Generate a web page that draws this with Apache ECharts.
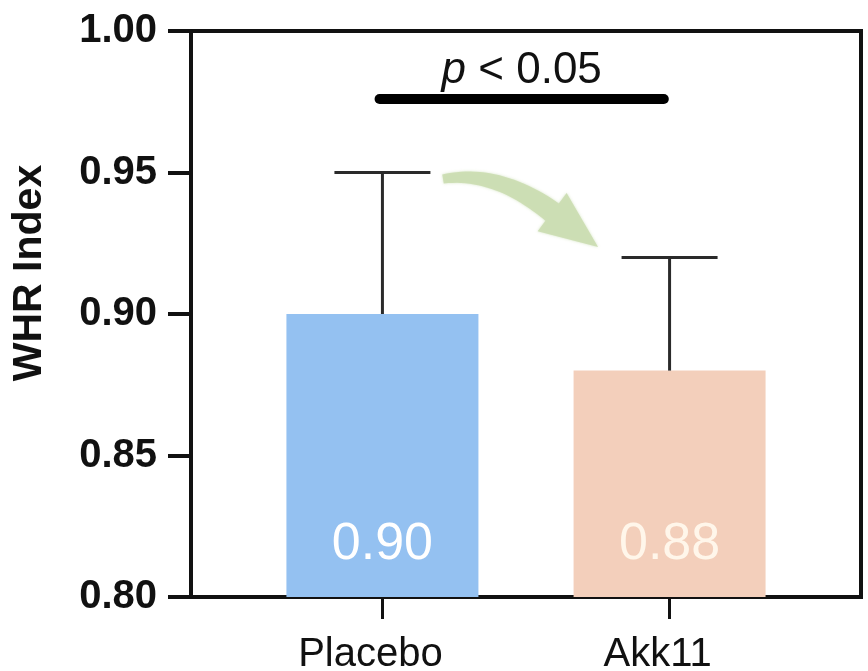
<!DOCTYPE html>
<html>
<head>
<meta charset="utf-8">
<script src="https://cdn.jsdelivr.net/npm/echarts@6/dist/echarts.min.js"></script>
<style>
  html, body { margin: 0; padding: 0; background: #fff; }
  #chart { width: 868px; height: 671px; }
</style>
</head>
<body>
<div id="chart"></div>
<script>
// Group names and their positions on the x scale
const categories = ['Placebo', 'Akk11'];
const categoryPos = [0, 1];

// Mean WHR index per group and the upper error (SD)
const means = [0.90, 0.88];
const errUpper = [0.05, 0.04];

// Y axis range and step
const yMin = 0.80;
const yMax = 1.00;
const yStep = 0.05;

// Significance bracket: span on the x scale, level on the y scale
const sigSpan = [-0.01, 0.98];
const sigLevel = 0.976;

// Curved arrow path anchors (x, y in axis units): tail, bend, head base, tip
const arrowTail = [0.211, 0.9477];
const arrowBend = [0.399, 0.9509];
const arrowHeadBase = [0.591, 0.9360];
const arrowTip = [0.751, 0.9237];

const barColors = ['#94C1F1', '#F3CFBB'];
const barLabelColors = ['#FFFFFF', '#FFF6EA'];
const FONT = '"Liberation Sans", Arial, Helvetica, sans-serif';

const chart = echarts.init(document.getElementById('chart'));

const barData = means.map((v, i) => ({
  value: [categoryPos[i], v],
  itemStyle: { color: barColors[i] },
  label: { color: barLabelColors[i] }
}));

const errData = means.map((v, i) => [categoryPos[i], v, v + errUpper[i]]);

function renderError(params, api) {
  const x = api.value(0);
  const base = api.coord([x, api.value(1)]);
  const top = api.coord([x, api.value(2)]);
  const half = 48;
  const style = { stroke: '#2a2a2a', lineWidth: 3, lineCap: 'butt' };
  return {
    type: 'group',
    children: [
      { type: 'line', shape: { x1: base[0], y1: base[1], x2: top[0], y2: top[1] }, style: style },
      { type: 'line', shape: { x1: top[0] - half, y1: top[1], x2: top[0] + half, y2: top[1] }, style: style }
    ]
  };
}

function renderSig(params, api) {
  const a = api.coord([api.value(0), api.value(2)]);
  const b = api.coord([api.value(1), api.value(2)]);
  return {
    type: 'group',
    children: [
      { type: 'line', shape: { x1: a[0], y1: a[1], x2: b[0], y2: b[1] },
        style: { stroke: '#000', lineWidth: 10, lineCap: 'round' } },
      { type: 'text', x: (a[0] + b[0]) / 2, y: a[1] - 6,
        style: {
          text: '{i|p} < 0.05', align: 'center', verticalAlign: 'bottom',
          font: '44px ' + FONT, fill: '#111',
          rich: { i: { fontStyle: 'italic', fontSize: 44, fontFamily: FONT, fill: '#111' } }
        } }
    ]
  };
}

function renderArrow(params, api) {
  const S = api.coord(arrowTail);
  const C = api.coord(arrowBend);
  const E = api.coord(arrowHeadBase);
  const T = api.coord(arrowTip);
  const n = 24;
  const w0 = 9, w1 = 22, headHalf = 24;
  const left = [], right = [];
  for (let k = 0; k <= n; k++) {
    const t = k / n;
    const px = (1 - t) * (1 - t) * S[0] + 2 * (1 - t) * t * C[0] + t * t * E[0];
    const py = (1 - t) * (1 - t) * S[1] + 2 * (1 - t) * t * C[1] + t * t * E[1];
    const dx = 2 * (1 - t) * (C[0] - S[0]) + 2 * t * (E[0] - C[0]);
    const dy = 2 * (1 - t) * (C[1] - S[1]) + 2 * t * (E[1] - C[1]);
    const len = Math.hypot(dx, dy) || 1;
    const nx = -dy / len, ny = dx / len;
    const w = (w0 + (w1 - w0) * t) / 2;
    left.push([px + nx * w, py + ny * w]);
    right.push([px - nx * w, py - ny * w]);
  }
  const hx = T[0] - E[0], hy = T[1] - E[1];
  const hl = Math.hypot(hx, hy) || 1;
  const hnx = -hy / hl, hny = hx / hl;
  const pts = left.concat([
    [E[0] + hnx * headHalf, E[1] + hny * headHalf],
    [T[0], T[1]],
    [E[0] - hnx * headHalf, E[1] - hny * headHalf]
  ]).concat(right.reverse());
  return {
    type: 'polygon',
    shape: { points: pts, smooth: 0 },
    style: { fill: '#CBDDB1', opacity: 0.9, shadowBlur: 3, shadowColor: 'rgba(200,220,175,0.8)' }
  };
}

const option = {
  animation: false,
  backgroundColor: '#fff',
  grid: {
    left: 191, right: 7, top: 31, bottom: 74,
    outerBoundsMode: 'none', containLabel: false,
    show: true, borderColor: '#111', borderWidth: 4, backgroundColor: 'transparent'
  },
  xAxis: {
    type: 'value',
    min: -2 / 3,
    max: 5 / 3,
    splitLine: { show: false },
    axisLine: { show: true, onZero: false, lineStyle: { color: '#111', width: 4 } },
    axisTick: {
      show: true, inside: false, length: 22, customValues: categoryPos,
      lineStyle: { color: '#111', width: 3 }
    },
    axisLabel: {
      show: true, customValues: categoryPos, margin: 38,
      fontFamily: FONT, fontSize: 40, color: '#111', padding: [0, 24, 0, 0],
      formatter: v => categories[Math.round(v)] || ''
    }
  },
  yAxis: {
    type: 'value',
    min: yMin, max: yMax, interval: yStep,
    splitLine: { show: false },
    axisLine: { show: true, onZero: false, lineStyle: { color: '#111', width: 4 } },
    axisTick: { show: true, length: 23, lineStyle: { color: '#111', width: 4 } },
    axisLabel: {
      margin: 34, fontFamily: FONT, fontSize: 40, fontWeight: 'bold', color: '#111',
      formatter: v => v.toFixed(2)
    }
  },
  graphic: [{
    type: 'text',
    x: 30, y: 273,
    rotation: Math.PI / 2,
    style: {
      text: 'WHR Index', align: 'center', verticalAlign: 'middle',
      font: 'bold 41px ' + FONT, fill: '#111'
    }
  }],
  series: [
    {
      type: 'bar',
      barWidth: 192,
      data: barData,
      z: 2,
      label: {
        show: true, position: 'insideBottom', distance: 26,
        fontFamily: FONT, fontSize: 52,
        formatter: p => p.value[1].toFixed(2)
      }
    },
    {
      type: 'custom',
      renderItem: renderError,
      data: errData,
      encode: { x: 0, y: [1, 2] },
      z: 3
    },
    {
      type: 'custom',
      renderItem: renderSig,
      data: [[sigSpan[0], sigSpan[1], sigLevel]],
      encode: { x: [0, 1], y: 2 },
      z: 4
    },
    {
      type: 'custom',
      renderItem: renderArrow,
      data: [[arrowTail[0], arrowTail[1]]],
      encode: { x: 0, y: 1 },
      z: 1
    }
  ]
};

chart.setOption(option);
</script>
</body>
</html>
